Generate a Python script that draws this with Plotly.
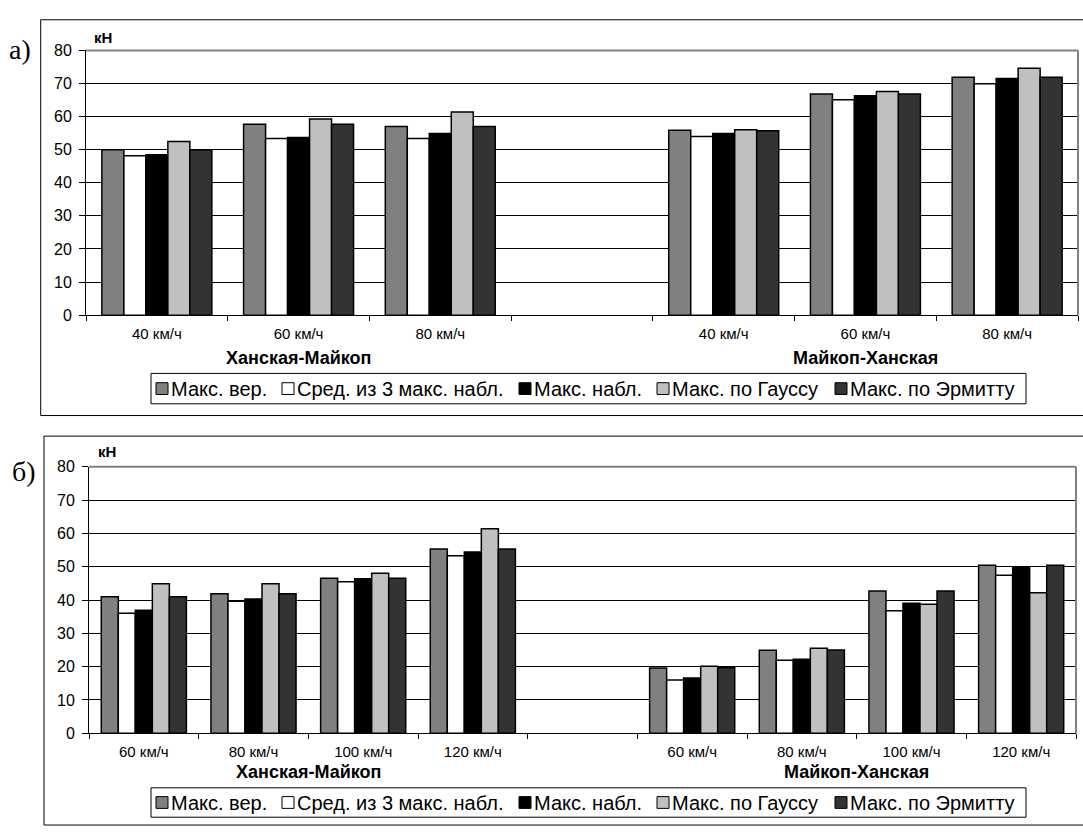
import plotly.graph_objects as go

W, H = 1083, 836

# ---------------- data ----------------
series_names = ["Макс. вер.", "Сред. из 3 макс. набл.", "Макс. набл.",
                "Макс. по Гауссу", "Макс. по Эрмитту"]
series_colors = ["#808080", "#FFFFFF", "#000000", "#C0C0C0", "#333333"]
routes = ["Ханская-Майкоп", "Майкоп-Ханская"]
speeds_a = ["40 км/ч", "60 км/ч", "80 км/ч"]
speeds_b = ["60 км/ч", "80 км/ч", "100 км/ч", "120 км/ч"]
y_ticks = [0, 10, 20, 30, 40, 50, 60, 70, 80]
unit = "кН"

# chart а): first 3 values Ханская-Майкоп, last 3 Майкоп-Ханская
a_max_ver = [50.0, 57.7, 57.0, 55.9, 66.8, 71.9]
a_avg3 = [48.2, 53.4, 53.4, 54.0, 65.1, 69.9]
a_max_obs = [48.5, 53.7, 54.9, 54.9, 66.3, 71.5]
a_gauss = [52.5, 59.3, 61.4, 56.0, 67.6, 74.6]
a_hermite = [50.0, 57.7, 57.0, 55.7, 66.8, 71.9]

# chart б): first 4 values Ханская-Майкоп, last 4 Майкоп-Ханская
b_max_ver = [41.0, 41.9, 46.5, 55.3, 19.6, 24.9, 42.7, 50.4]
b_avg3 = [36.0, 39.6, 45.5, 53.3, 16.0, 21.9, 36.8, 47.4]
b_max_obs = [36.9, 40.3, 46.4, 54.4, 16.6, 22.2, 39.0, 50.0]
b_gauss = [44.9, 44.9, 48.0, 61.4, 20.1, 25.5, 38.7, 42.2]
b_hermite = [41.0, 41.9, 46.5, 55.3, 19.7, 25.0, 42.7, 50.4]

a_series = [a_max_ver, a_avg3, a_max_obs, a_gauss, a_hermite]
b_series = [b_max_ver, b_avg3, b_max_obs, b_gauss, b_hermite]

# ---------------- helpers ----------------
def px(x):
    return x / W


def py(y):
    return 1 - y / H


FONT = "Arial, 'Liberation Sans', sans-serif"
SERIF = "'Times New Roman', 'Liberation Serif', serif"


def build_keys(speeds):
    keys = [f"{r}|{s}" for r in routes for s in speeds]
    n = len(speeds)
    order = keys[:n] + ["gap"] + keys[n:]
    text = speeds + [""] + speeds
    return keys, order, text


keys_a, order_a, text_a = build_keys(speeds_a)
keys_b, order_b, text_b = build_keys(speeds_b)

fig = go.Figure()
for name, color, vals in zip(series_names, series_colors, a_series):
    fig.add_trace(go.Bar(x=keys_a, y=vals, name=name, marker_color=color,
                         marker_line=dict(color="black", width=1.5),
                         xaxis="x", yaxis="y", showlegend=False))
for name, color, vals in zip(series_names, series_colors, b_series):
    fig.add_trace(go.Bar(x=keys_b, y=vals, name=name, marker_color=color,
                         marker_line=dict(color="black", width=1.5),
                         xaxis="x2", yaxis="y2", showlegend=False))

# plot-area pixel geometry
A = dict(x0=86, x1=1078, ytop=43.3, ybot=313.5)
B = dict(x0=89, x1=1076, ytop=468.3, ybot=740.3)


def xaxis_cfg(g, order, text, anchor):
    return dict(domain=[px(g["x0"]), px(g["x1"])], type="category",
                categoryorder="array", categoryarray=order,
                tickvals=order, ticktext=text, tickson="boundaries",
                ticks="outside", ticklen=5, tickcolor="black", tickwidth=1,
                showline=True, linecolor="black", linewidth=1,
                showgrid=False, zeroline=False, anchor=anchor,
                tickfont=dict(family=FONT, size=15, color="black"),
                ticklabelstandoff=5, fixedrange=True)


def yaxis_cfg(g, anchor):
    return dict(domain=[py(g["ybot"]), py(g["ytop"])], range=[0, 80],
                tickvals=y_ticks, showgrid=True, gridcolor="black",
                gridwidth=1, ticks="outside", ticklen=6, tickcolor="black",
                showline=True, linecolor="black", linewidth=1,
                zeroline=False, anchor=anchor, ticklabelstandoff=4,
                tickfont=dict(family=FONT, size=16, color="black"),
                fixedrange=True)


shapes = []
annotations = []

# outer frames
shapes.append(dict(type="rect", xref="paper", yref="paper",
                   x0=px(40.7), x1=1.02, y0=py(416), y1=py(12),
                   line=dict(color="black", width=1), layer="below"))
shapes.append(dict(type="rect", xref="paper", yref="paper",
                   x0=px(44), x1=1.02, y0=py(834), y1=py(437),
                   line=dict(color="black", width=1), layer="below"))

# gray plot-area border (top and right)
for g in (A, B):
    shapes.append(dict(type="line", xref="paper", yref="paper",
                       x0=px(g["x0"]), x1=px(g["x1"]), y0=py(g["ytop"]), y1=py(g["ytop"]),
                       line=dict(color="#808080", width=2), layer="above"))
    shapes.append(dict(type="line", xref="paper", yref="paper",
                       x0=px(g["x1"]), x1=px(g["x1"]), y0=py(g["ytop"]), y1=py(g["ybot"]),
                       line=dict(color="#808080", width=2), layer="above"))

# panel letters and unit labels
annotations.append(dict(text="а)", x=px(7), y=py(42), xref="paper", yref="paper",
                        xanchor="left", yanchor="middle", showarrow=False,
                        font=dict(family=SERIF, size=28, color="black")))
annotations.append(dict(text="б)", x=px(10), y=py(473), xref="paper", yref="paper",
                        xanchor="left", yanchor="middle", showarrow=False,
                        font=dict(family=SERIF, size=28, color="black")))
annotations.append(dict(text=f"<b>{unit}</b>", x=px(92), y=py(30), xref="paper", yref="paper",
                        xanchor="left", yanchor="middle", showarrow=False,
                        font=dict(family=FONT, size=15, color="black")))
annotations.append(dict(text=f"<b>{unit}</b>", x=px(96), y=py(453), xref="paper", yref="paper",
                        xanchor="left", yanchor="middle", showarrow=False,
                        font=dict(family=FONT, size=15, color="black")))

# route (group) labels, centred under their categories
for xref, speeds, ylab in (("x", speeds_a, 357), ("x2", speeds_b, 780)):
    n = len(speeds)
    for i, r in enumerate(routes):
        centre = i * (n + 1) + (n - 1) / 2
        annotations.append(dict(text=f"<b>{r}</b>", x=centre, y=py(ylab), xref=xref,
                                yref="paper", xanchor="center", yanchor="middle",
                                showarrow=False,
                                font=dict(family=FONT, size=18, color="black")))

# manual legends (boxes with coloured squares)
leg_sq_x = [156, 282, 519, 657, 835]
for box_top, box_bot in ((373, 404), (796, 826)):
    yc = (box_top + box_bot) / 2
    shapes.append(dict(type="rect", xref="paper", yref="paper",
                       x0=px(151), x1=px(1026), y0=py(box_bot), y1=py(box_top),
                       line=dict(color="black", width=1), fillcolor="white", layer="above"))
    for sx, name, color in zip(leg_sq_x, series_names, series_colors):
        shapes.append(dict(type="rect", xref="paper", yref="paper",
                           x0=px(sx), x1=px(sx + 12), y0=py(yc + 6), y1=py(yc - 6),
                           line=dict(color="black", width=1), fillcolor=color, layer="above"))
        annotations.append(dict(text=name, x=px(sx + 13), y=py(yc), xref="paper", yref="paper",
                                xanchor="left", yanchor="middle", showarrow=False,
                                font=dict(family=FONT, size=20, color="black")))

fig.update_layout(
    width=W, height=H, autosize=False,
    margin=dict(l=0, r=0, t=0, b=0),
    paper_bgcolor="white", plot_bgcolor="white",
    barmode="group", bargap=0.224, bargroupgap=0,
    xaxis=xaxis_cfg(A, order_a, text_a, "y"),
    yaxis=yaxis_cfg(A, "x"),
    xaxis2=xaxis_cfg(B, order_b, text_b, "y2"),
    yaxis2=yaxis_cfg(B, "x2"),
    shapes=shapes, annotations=annotations,
    showlegend=False,
    font=dict(family=FONT, color="black"),
)

fig.write_html("out.html", config={"displayModeBar": False, "staticPlot": True},
               post_script="document.body.style.margin='0';document.body.style.overflow='hidden';")
